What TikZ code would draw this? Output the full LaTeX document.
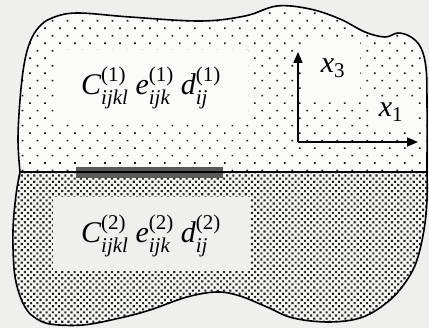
\documentclass[tikz,border=0pt]{standalone}
\usepackage{amsmath}
\usepackage{fontspec}
\setmainfont{Liberation Serif}
\usetikzlibrary{patterns.meta,arrows.meta}
\definecolor{bgc}{HTML}{EFEFEC}
\definecolor{topc}{HTML}{FAFAF8}
\definecolor{botc}{HTML}{F6F6F3}
\definecolor{barc}{HTML}{5A5A5A}
\newcommand{\tens}[3]{$\textit{#1}^{\textrm{(#3)}}_{\textit{#2}}$}
\newcommand{\axlab}[2]{$\textit{#1}_{\textrm{#2}}$}
\tikzset{
  outline/.style={draw=black, line width=1.6pt, line join=round},
  lab/.style={inner sep=0pt, anchor=base west, font=\fontsize{30}{36}\selectfont},
  axlabel/.style={inner sep=0pt, font=\fontsize{30}{36}\selectfont},
  axis/.style={line width=1.6pt, -{Triangle[length=11pt,width=9pt]}},
}
\begin{document}
\begin{tikzpicture}[x=1pt,y=-1pt]
\useasboundingbox (0,0) rectangle (429,328);
\fill[bgc] (0,0) rectangle (429,328);
% regions
\path[save path=\TopP] plot[smooth, tension=0.6] coordinates {(20,172) (18,140) (20,100) (24,65) (30,42) (39,27) (52,18) (77,13) (130,17) (200,21) (245,16) (277,6) (310,9) (340,19) (365,32) (385,37) (398,33) (411,37) (421,48) (426,68) (427,100) (427,172)} -- cycle;
\path[save path=\BotP] plot[smooth, tension=0.6] coordinates {(20,172) (16,195) (13,230) (14,268) (18,290) (25,307) (34,317) (50,324) (83,325) (120,318) (150,310) (187,297) (217,292) (240,296) (267,307) (293,318) (330,322) (363,317) (390,300) (407,280) (417,260) (424,230) (427,200) (427,172)} -- cycle;
\fill[topc, use path=\TopP];
\fill[pattern={Dots[distance=10.6pt, angle=45, radius=1.2pt]}, pattern color=black!90, use path=\TopP];
\fill[topc] (55,50) rectangle (248,124);
\fill[topc] (305,42) rectangle (360,100);
\fill[topc] (372,98) rectangle (414,128);
\fill[botc, use path=\BotP];
\fill[pattern={Dots[distance=4.4pt, angle=45, radius=1.5pt]}, pattern color=black!85, use path=\BotP];
\fill[bgc] (53,197) rectangle (250,271);
% interface
\coordinate (il) at (20,172);
\coordinate (ir) at (427,172);
\draw[line width=1.5pt] (il) -- (ir);
\fill[barc] (76,167) rectangle (223,178);
\draw[outline, use path=\TopP];
\draw[outline, use path=\BotP];
% axes
\coordinate (o) at (298,142);
\coordinate (e3) at (298,52);
\coordinate (e1) at (418,142);
\draw[axis] (o) -- (e3);
\draw[axis] (o) -- (e1);
\node[axlabel] (x3) at (333,68) {\axlab{x}{3}};
\node[axlabel] (x1) at (391,112) {\axlab{x}{1}};
% labels
\node[lab] (m1) at (81,95) {\tens{C}{ijkl}{1}\hspace{7pt}\tens{e}{ijk}{1}\hspace{7pt}\tens{d}{ij}{1}};
\node[lab] (m2) at (81,243) {\tens{C}{ijkl}{2}\hspace{7pt}\tens{e}{ijk}{2}\hspace{7pt}\tens{d}{ij}{2}};
\end{tikzpicture}
\end{document}
